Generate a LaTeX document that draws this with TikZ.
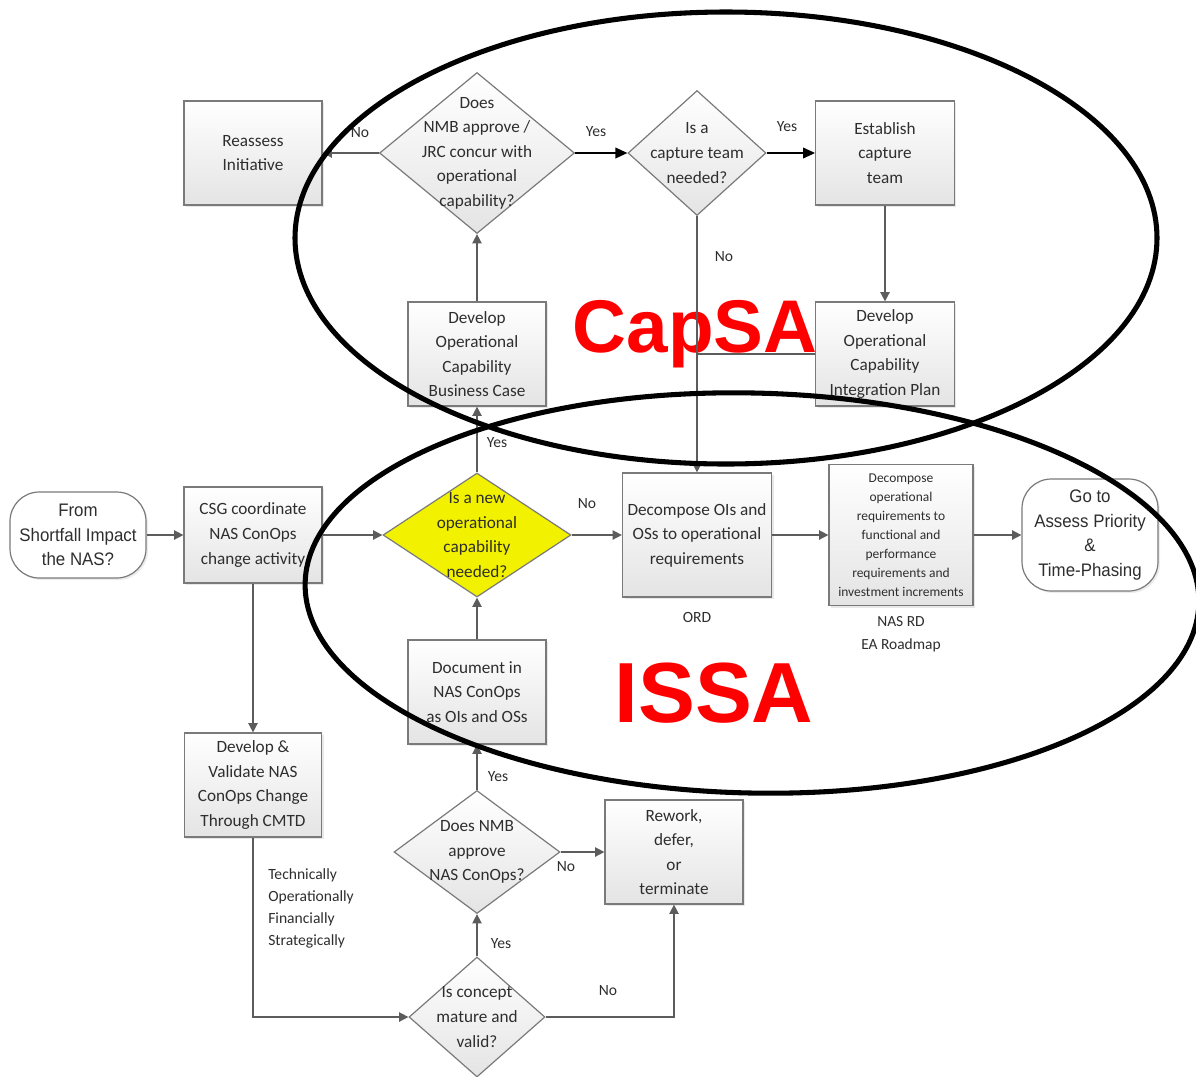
\documentclass[tikz,border=0pt]{standalone}
\usepackage{fontspec}
\setmainfont{Carlito}
\newfontfamily\arialfont[FakeStretch=0.93]{Liberation Sans}
\newfontfamily\arialbold{Liberation Sans Bold}
\usetikzlibrary{shapes.geometric,arrows.meta,shadows}

\definecolor{linegray}{HTML}{5C5C5C}
\definecolor{boxedge}{HTML}{7A7A7A}
\definecolor{boxlow}{HTML}{E4E4E4}
\definecolor{txt}{HTML}{2E2E2E}
\definecolor{newcap}{HTML}{F2F200}
\definecolor{capred}{HTML}{FF0000}

\tikzset{
  boxfont/.style={font=\fontsize{12.9}{18.4}\selectfont},
  procbox/.style={rectangle, draw=boxedge, line width=0.9pt,
    top color=white, bottom color=boxlow,
    drop shadow={shadow xshift=1.5pt, shadow yshift=-1.5pt, opacity=0.18},
    align=center, text=txt, inner sep=2pt, boxfont},
  decision/.style={diamond, draw=boxedge, line width=0.9pt, inner sep=0pt},
  greydec/.style={decision, top color=white, bottom color=boxlow},
  yellowdec/.style={decision, fill=newcap},
  dectext/.style={align=center, text=txt, boxfont},
  terminal/.style={rectangle, rounded corners=22pt, draw=boxedge, line width=0.9pt,
    fill=white, drop shadow={shadow xshift=1.5pt, shadow yshift=-1.5pt, opacity=0.15},
    align=center, text=txt, font=\arialfont\fontsize{13.6}{18.5}\selectfont},
  flow/.style={draw=linegray, line width=1.1pt, -{Triangle[length=7pt,width=7pt]}},
  flowdark/.style={draw=black, line width=1.1pt, -{Triangle[length=9pt,width=8pt]}},
  joinline/.style={draw=linegray, line width=1.1pt},
  tag/.style={text=txt, font=\fontsize{11.7}{16.5}\selectfont, inner sep=0pt},
  region/.style={draw=black, line width=3.8pt},
  bigred/.style={text=capred, inner sep=0pt, anchor=base}
}

\begin{document}
\begin{tikzpicture}[x=0.75pt, y=-0.75pt]
\useasboundingbox (0,0) rectangle (1196,1076);
\clip (0,0) rectangle (1196,1076);

% ---- process boxes ----
\node[procbox, minimum width=103.5pt, minimum height=78pt] (reassess) at (253,153) {Reassess\\Initiative};
\node[procbox, minimum width=104pt, minimum height=78pt] (establish) at (885,153) {Establish\\capture\\team};
\node[procbox, minimum width=104pt, minimum height=78pt] (intplan) at (885,354) {Develop\\Operational\\Capability\\Integration Plan};
\node[procbox, minimum width=103.5pt, minimum height=78pt] (bizcase) at (477,354) {Develop\\Operational\\Capability\\Business Case};
\node[procbox, minimum width=103.5pt, minimum height=72pt] (csg) at (253,535) {CSG coordinate\\NAS ConOps\\change activity};
\node[procbox, minimum width=111.75pt, minimum height=93pt] (decops) at (697,535) {Decompose OIs and\\OSs to operational\\requirements};
\node[procbox, minimum width=108pt, minimum height=105.75pt,
      font=\fontsize{10.1}{14.3}\selectfont] (decreq) at (901,535)
      {Decompose\\operational\\requirements to\\functional and\\performance\\requirements and\\investment increments};
\node[procbox, minimum width=103.5pt, minimum height=78pt] (docu) at (477,692) {Document in\\NAS ConOps\\as OIs and OSs};
\node[procbox, minimum width=103pt, minimum height=78pt] (devval) at (253,785) {Develop \&\\Validate NAS\\ConOps Change\\Through CMTD};
\node[procbox, minimum width=103.5pt, minimum height=78pt] (rework) at (674,852) {Rework,\\defer,\\or\\terminate};

% ---- terminators ----
\node[terminal, minimum width=102pt, minimum height=64.5pt] (start) at (78,535) {From\\Shortfall Impact\\the NAS?};
\node[terminal, minimum width=102pt, minimum height=84pt] (goto) at (1090,535) {Go to\\Assess Priority\\\&\\Time-Phasing};

% ---- decisions ----
\node[greydec, minimum width=146.25pt, minimum height=120.75pt,
      label={[dectext]center:{Does\\NMB approve /\\JRC concur with\\operational\\capability?}}] (nmbjrc) at (477,153) {};
\node[greydec, minimum width=103.5pt, minimum height=93.75pt,
      label={[dectext]center:{Is a\\capture team\\needed?}}] (capteam) at (697,153) {};
\node[yellowdec, minimum width=141pt, minimum height=93pt,
      label={[dectext]center:{Is a new\\operational\\capability\\needed?}}] (newcap) at (477,535) {};
\node[greydec, minimum width=124.5pt, minimum height=92.25pt,
      label={[dectext]center:{Does NMB\\approve\\NAS ConOps?}}] (nmbcon) at (477,852) {};
\node[greydec, minimum width=102pt, minimum height=90pt,
      label={[dectext]center:{Is concept\\mature and\\valid?}}] (mature) at (477,1017) {};

% ---- side notes ----
\node[tag] (ord) at (697,617) {ORD};
\node[tag, align=center, font=\fontsize{11.6}{17.3}\selectfont] (nasrd) at (901,634) {NAS RD\\EA Roadmap};
\node[tag, align=left, anchor=west] (criteria) at (268,908) {Technically\\Operationally\\Financially\\Strategically};

% ---- area titles ----
\node[bigred, font=\arialbold\fontsize{56}{56}\selectfont] (capsa) at (695,352) {CapSA};
\node[bigred, font=\arialbold\fontsize{64}{64}\selectfont] (issa) at (714,722) {ISSA};

% ---- connectors ----
\draw[flow] (start.east) -- (csg.west);
\draw[flow] (csg.east) -- (newcap.west);
\draw[flow] (csg.south) -- (devval.north);
\draw[flow] (devval.south) |- (mature.west);
\draw[flow] (mature.north) -- (nmbcon.south);
\draw[flow] (mature.east) -| (rework.south);
\draw[flow] (nmbcon.east) -- (nmbcon.east -| rework.west);
\draw[flow] (nmbcon.north) -- (docu.south);
\draw[flow] (docu.north) -- (newcap.south);
\draw[flow] (newcap.north) -- (bizcase.south);
\draw[flow] (newcap.east) -- (decops.west);
\draw[flow] (bizcase.north) -- (nmbjrc.south);
\draw[flow] (nmbjrc.west) -- (reassess.east);
\draw[flowdark] (nmbjrc.east) -- (capteam.west);
\draw[flowdark] (capteam.east) -- (establish.west);
\draw[flow] (establish.south) -- (intplan.north);
\draw[flow] (capteam.south) -- (decops.north);
\draw[joinline] (intplan.west) -- (capteam.south |- intplan.west);
\draw[flow] (decops.east) -- (decreq.west);
\draw[flow] (decreq.east) -- (goto.west);

% ---- branch labels ----
\node[tag] (l1) at (360,133) {No};
\node[tag] (l2) at (596,132) {Yes};
\node[tag] (l3) at (787,127) {Yes};
\node[tag] (l4) at (724,257) {No};
\node[tag] (l5) at (497,443) {Yes};
\node[tag] (l6) at (587,504) {No};
\node[tag] (l7) at (498,777) {Yes};
\node[tag] (l8) at (566,867) {No};
\node[tag] (l9) at (501,944) {Yes};
\node[tag] (l10) at (608,991) {No};

% ---- analysis regions ----
\draw[region] (726,238) ellipse [x radius=431, y radius=226];
\draw[region, rotate around={-1.3:(752,593)}] (752,593) ellipse [x radius=447, y radius=200];
\end{tikzpicture}
\end{document}
